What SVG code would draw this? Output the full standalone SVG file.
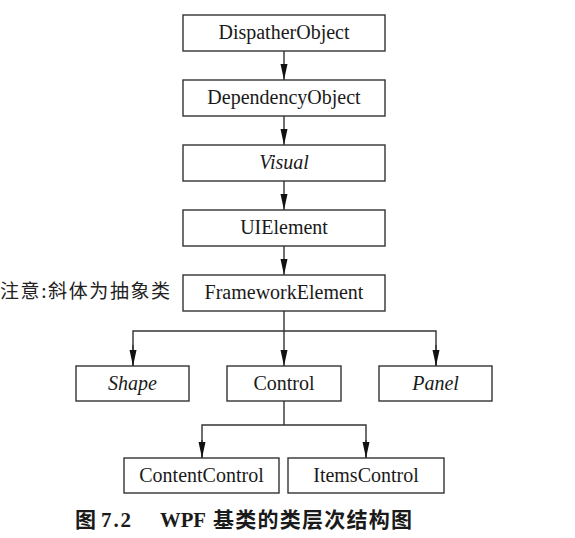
<svg xmlns="http://www.w3.org/2000/svg" width="575" height="538" viewBox="0 0 575 538">
<defs>
<style>
.box{fill:#fff;stroke:#333;stroke-width:1.4}
.lbl{font-family:"Liberation Serif","Times New Roman",serif;font-size:20px;fill:#1a1a1a;text-anchor:middle}
.it{font-style:italic}
.ln{fill:none;stroke:#333;stroke-width:1.4}
.note{font-family:"Noto Sans CJK SC",sans-serif;font-size:19px;fill:#222;letter-spacing:1.6px}
.cap{font-family:"Liberation Serif","Noto Sans CJK SC",serif;font-size:21px;font-weight:bold;fill:#1a1a1a}
.capc{font-family:"Noto Sans CJK SC",sans-serif;font-weight:bold;font-size:21px}
</style>
<marker id="ah" viewBox="0 0 16 8" refX="16" refY="4" markerWidth="16" markerHeight="8" orient="auto" markerUnits="userSpaceOnUse">
<path d="M0,0.5 L16,4 L0,7.5 Z" fill="#111"/>
</marker>
</defs>

<g id="connectors">
<line class="ln" x1="284" y1="51" x2="284" y2="80" marker-end="url(#ah)"/>
<line class="ln" x1="284" y1="116" x2="284" y2="145" marker-end="url(#ah)"/>
<line class="ln" x1="284" y1="181" x2="284" y2="210" marker-end="url(#ah)"/>
<line class="ln" x1="284" y1="246" x2="284" y2="275" marker-end="url(#ah)"/>
<line class="ln" x1="284" y1="311" x2="284" y2="366" marker-end="url(#ah)"/>
<polyline class="ln" points="133,366 133,331 436,331 436,366"/>
<line class="ln" x1="133" y1="345" x2="133" y2="366" marker-end="url(#ah)"/>
<line class="ln" x1="436" y1="345" x2="436" y2="366" marker-end="url(#ah)"/>
<line class="ln" x1="284" y1="401" x2="284" y2="425"/>
<polyline class="ln" points="202,458 202,425 366,425 366,458"/>
<line class="ln" x1="202" y1="440" x2="202" y2="458" marker-end="url(#ah)"/>
<line class="ln" x1="366" y1="440" x2="366" y2="458" marker-end="url(#ah)"/>
</g>

<g id="DispatherObject"><rect class="box" x="183" y="15" width="202" height="36"/><text class="lbl" x="284" y="39">DispatherObject</text></g>
<g id="DependencyObject"><rect class="box" x="183" y="80" width="202" height="36"/><text class="lbl" x="284" y="104">DependencyObject</text></g>
<g id="Visual"><rect class="box" x="183" y="145" width="202" height="36"/><text class="lbl it" x="284" y="169">Visual</text></g>
<g id="UIElement"><rect class="box" x="183" y="210" width="202" height="36"/><text class="lbl" x="284" y="234">UIElement</text></g>
<g id="FrameworkElement"><rect class="box" x="183" y="275" width="202" height="36"/><text class="lbl" x="284" y="299">FrameworkElement</text></g>
<g id="Shape"><rect class="box" x="76" y="366" width="113" height="35"/><text class="lbl it" x="132.5" y="390">Shape</text></g>
<g id="Control"><rect class="box" x="227" y="366" width="114" height="35"/><text class="lbl" x="284" y="390">Control</text></g>
<g id="Panel"><rect class="box" x="379" y="366" width="113" height="35"/><text class="lbl it" x="435.5" y="390">Panel</text></g>
<g id="ContentControl"><rect class="box" x="124" y="458" width="155" height="35"/><text class="lbl" x="201.5" y="482">ContentControl</text></g>
<g id="ItemsControl"><rect class="box" x="288" y="458" width="156" height="35"/><text class="lbl" x="366" y="482">ItemsControl</text></g>

<g id="note"><text class="note" x="0" y="298">注意:斜体为抽象类</text></g>

<g id="caption"><text class="cap" y="527"><tspan class="capc" x="75">图</tspan><tspan x="101" textLength="30" lengthAdjust="spacing">7.2</tspan><tspan x="160" textLength="46" lengthAdjust="spacingAndGlyphs">WPF</tspan><tspan class="capc" x="213" textLength="199" lengthAdjust="spacing">基类的类层次结构图</tspan></text></g>
</svg>
